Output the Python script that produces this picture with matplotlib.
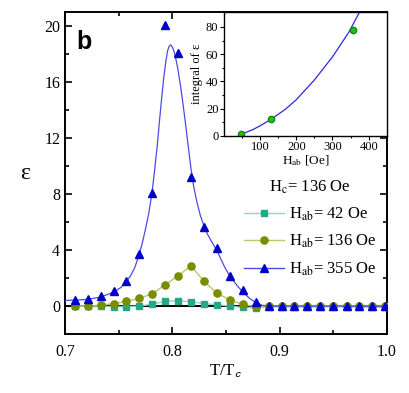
import numpy as np
import matplotlib
matplotlib.use("Agg")
import matplotlib.pyplot as plt
from matplotlib.lines import Line2D

plt.rcParams["font.family"] = ["Liberation Serif", "DejaVu Serif"]
plt.rcParams["mathtext.fontset"] = "stix"

# ── data ───────────────────────────────────────────────────
t_red = [0.7093, 0.7212, 0.7333, 0.7454, 0.7571, 0.7692, 0.7811, 0.7932,
         0.8056, 0.8174, 0.8295, 0.8417, 0.8535, 0.8656, 0.8777, 0.8898,
         0.9020, 0.9137, 0.9258, 0.9380, 0.9500, 0.9626, 0.9743, 0.9864,
         0.9985]

eps_42 = [0.0, 0.0, 0.0, -0.05, -0.05, 0.0, 0.12, 0.35, 0.38, 0.31, 0.17,
          0.09, 0.0, -0.10, -0.14, -0.05, -0.06, -0.05, -0.07, -0.06, -0.05,
          -0.06, -0.08, -0.08, -0.10]
eps_136 = [0.0, 0.0, 0.07, 0.17, 0.33, 0.54, 0.88, 1.51, 2.17, 2.88, 1.77,
           0.90, 0.45, 0.12, -0.05, 0.0, 0.02, 0.02, 0.03, 0.02, 0.03, 0.03,
           0.02, 0.03, 0.03]
eps_355 = [0.42, 0.47, 0.69, 1.09, 1.80, 3.74, 8.06, 20.05, 18.10, 9.24,
           5.67, 4.16, 2.15, 1.13, 0.28, 0.0, 0.0, 0.0, 0.0, 0.0, 0.0, 0.0,
           0.0, 0.0, 0.0]

# fitted curve for H_ab = 355 Oe
fit_t = [0.700, 0.7093, 0.7212, 0.7333, 0.7454, 0.7520, 0.7571, 0.7610,
         0.7650, 0.7692, 0.7720, 0.7750, 0.7780, 0.7811, 0.7835, 0.7860,
         0.7880, 0.7900, 0.7920, 0.7940, 0.7955, 0.7970, 0.7985, 0.8000,
         0.8015, 0.8030, 0.8050, 0.8075, 0.8100, 0.8125, 0.8150, 0.8174,
         0.8200, 0.8230, 0.8260, 0.8295, 0.8330, 0.8370, 0.8417, 0.8450,
         0.8490, 0.8535, 0.8600, 0.8656, 0.8720, 0.8777, 0.8840, 0.8900,
         1.000]
fit_eps = [0.40, 0.42, 0.48, 0.64, 1.00, 1.32, 1.75, 2.15, 2.75, 3.70,
           4.50, 5.50, 6.60, 8.10, 9.70, 11.5, 13.2, 14.8, 16.3, 17.5,
           18.2, 18.55, 18.65, 18.5, 18.2, 17.75, 17.0, 15.8, 14.4, 12.9,
           11.3, 9.8, 8.5, 7.4, 6.5, 5.7, 5.1, 4.55, 3.95, 3.4, 2.75, 2.15,
           1.5, 1.0, 0.55, 0.25, 0.05, 0.0, 0.0]

# inset: integral of eps vs H_ab
h_ab = [47, 130, 357]
eps_int = [1.5, 12.5, 78.0]
fit_h = [42, 60, 80, 100, 130, 170, 200, 250, 300, 345, 375]
fit_int = [1.0, 2.4, 4.5, 7.3, 12.0, 19.5, 26.5, 41.0, 58.0, 76.0, 91.0]

fig = plt.figure(figsize=(4.09, 3.93), dpi=100)
ax = fig.add_axes([0.159, 0.150, 0.787, 0.8195])

ax.axhline(0, color="black", lw=1.4, zorder=1)

ax.plot(t_red, eps_42, "-", color="#8ad8c6", lw=1.0, zorder=2)
ax.plot(t_red, eps_42, "s", color="#26a886", ms=4.0, zorder=3)
ax.plot(t_red, eps_136, "-", color="#b8c86a", lw=1.0, zorder=4)
ax.plot(t_red, eps_136, "o", color="#7a8c00", ms=5.2, zorder=5)
ax.plot(fit_t, fit_eps, "-", color="#4a4ae6", lw=0.9, zorder=6)
ax.plot(t_red, eps_355, "^", color="#0000c8", ms=5.8, zorder=7)

ax.set_xlim(0.7, 1.0)
ax.set_ylim(-2, 21)
ax.set_xticks([0.7, 0.8, 0.9, 1.0])
ax.set_xticklabels(["0.7", "0.8", "0.9", "1.0"])
ax.set_xticks([0.75, 0.85, 0.95], minor=True)
ax.set_yticks([0, 4, 8, 12, 16, 20])
ax.set_yticks([2, 6, 10, 14, 18], minor=True)
ax.tick_params(which="both", direction="in", top=True, right=True,
               labelsize=11.5, width=1.2)
ax.tick_params(which="major", length=5)
ax.tick_params(which="minor", length=3)
for s in ax.spines.values():
    s.set_linewidth(1.4)
ax.tick_params(axis="x", pad=7)

ax.set_xlabel(r"T/T$_\mathsf{c}$", fontsize=12, labelpad=2)
ax.set_ylabel("ε", fontsize=17, rotation=0, labelpad=14, va="center")
ax.text(0.035, 0.945, "b", transform=ax.transAxes, fontsize=18,
        fontweight="bold", family="Liberation Sans", va="top")

handles = [
    Line2D([], [], color="#8ad8c6", lw=1.0, marker="s", ms=4.0,
           mfc="#26a886", mec="#26a886"),
    Line2D([], [], color="#b8c86a", lw=1.0, marker="o", ms=5.2,
           mfc="#7a8c00", mec="#7a8c00"),
    Line2D([], [], color="#4a4ae6", lw=1.0, marker="^", ms=5.8,
           mfc="#0000c8", mec="#0000c8"),
]
labels = [r"H$_{\mathrm{ab}}$= 42 Oe", r"H$_{\mathrm{ab}}$= 136 Oe",
          r"H$_{\mathrm{ab}}$= 355 Oe"]
leg = ax.legend(handles, labels, title=r"H$_{\mathrm{c}}$= 136 Oe",
                loc="upper left", bbox_to_anchor=(0.52, 0.52),
                frameon=False, fontsize=12, title_fontsize=12,
                handlelength=2.4, handletextpad=0.3, labelspacing=0.6,
                borderpad=0.2, numpoints=1)

# ── inset ──
axi = fig.add_axes([0.5477, 0.6547, 0.3978, 0.3148])
axi.plot(fit_h, fit_int, "-", color="#2a2ae0", lw=0.9)
axi.plot(h_ab, eps_int, "o", color="#22c022", mec="#118811", ms=4.5)
axi.set_xlim(0, 450)
axi.set_ylim(0, 91)
axi.set_xticks([100, 200, 300, 400])
axi.set_xticks([50, 150, 250, 350], minor=True)
axi.set_yticks([0, 20, 40, 60, 80])
axi.set_yticks([10, 30, 50, 70], minor=True)
axi.tick_params(which="both", direction="out", labelsize=9, width=0.8,
                pad=1)
axi.tick_params(which="major", length=3)
axi.tick_params(which="minor", length=1.5)
for s in axi.spines.values():
    s.set_linewidth(1.0)
axi.set_xlabel(r"H$_{\mathrm{ab}}$ [Oe]", fontsize=9.5, labelpad=0)
axi.set_ylabel("integral of ε", fontsize=9, labelpad=2)

fig.savefig("out.png", dpi=100)
